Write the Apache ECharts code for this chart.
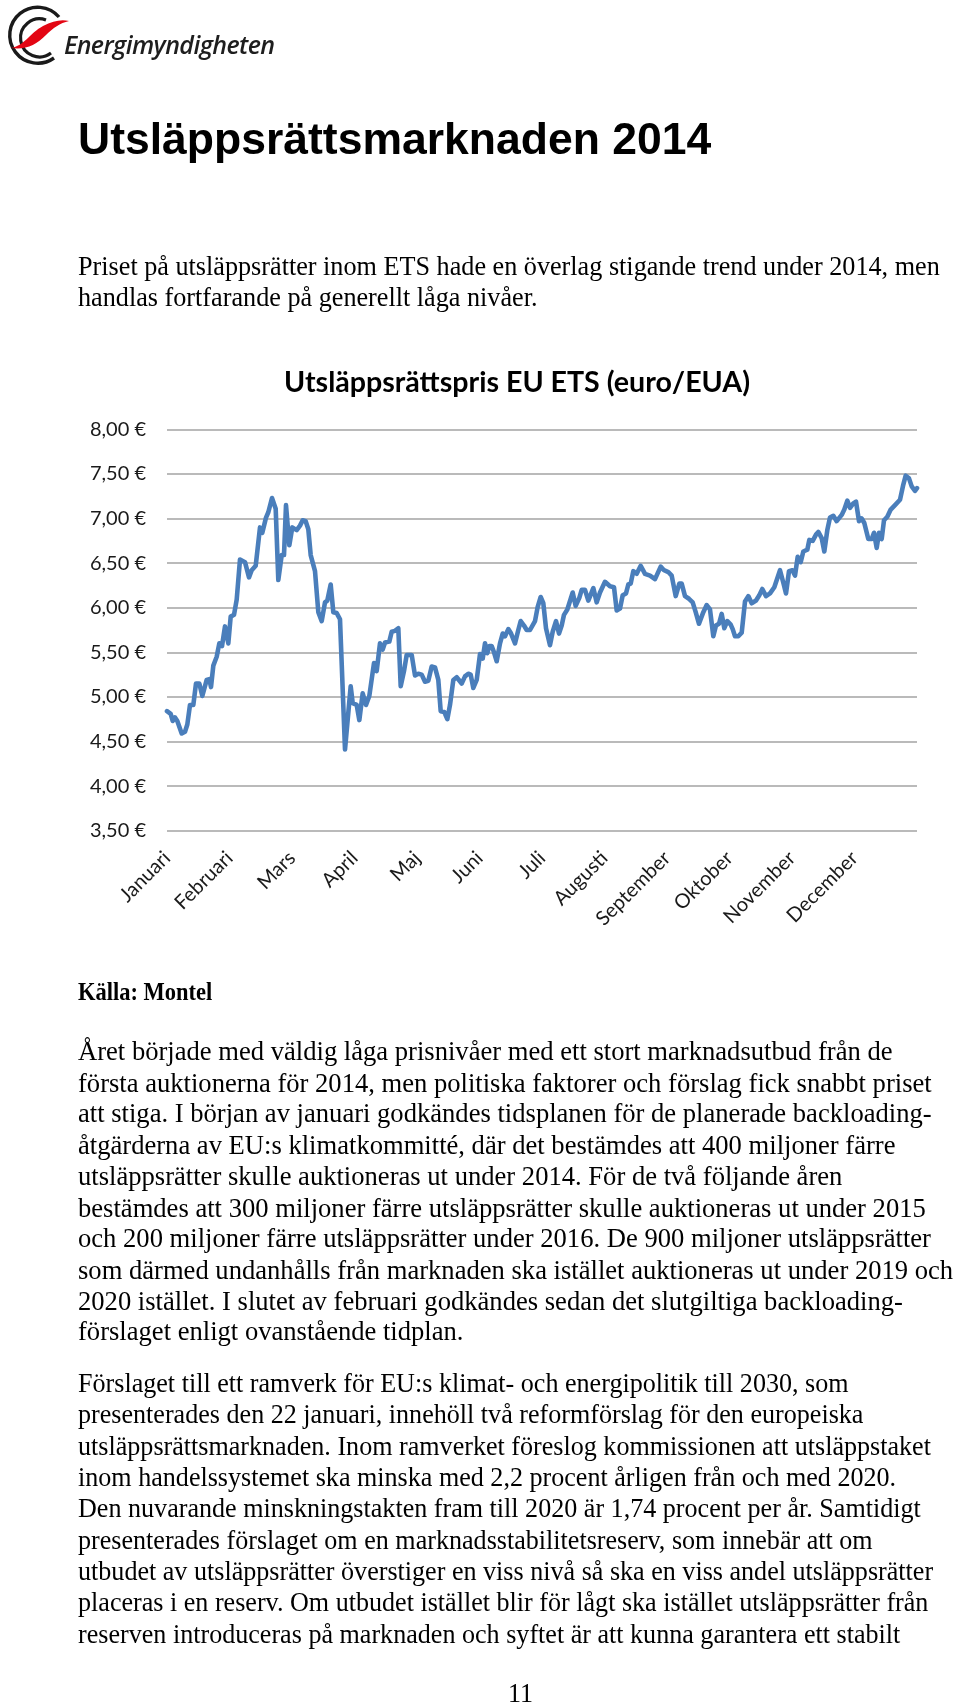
<!DOCTYPE html>
<html>
<head>
<meta charset="utf-8">
<script src="https://cdn.jsdelivr.net/npm/echarts@6/dist/echarts.min.js"></script>
<style>
html,body{margin:0;padding:0;background:#fff;}
#page{position:relative;width:960px;height:1705px;overflow:hidden;background:#fff;}
#chart{position:absolute;left:0;top:0;width:960px;height:1705px;z-index:1;}
.t{position:absolute;white-space:nowrap;color:#000;z-index:2;transform-origin:0 0;}
.serif{font-family:"Liberation Serif","Times New Roman",serif;}
#logo{position:absolute;left:0;top:0;z-index:2;}
#logotext{position:absolute;left:64px;top:29px;font-family:"Open Sans",sans-serif;font-style:italic;font-weight:600;font-size:25px;line-height:30px;color:#1e1e1e;letter-spacing:-0.6px;z-index:2;}
#title{left:78px;top:113.6px;font-family:"Liberation Sans",Arial,sans-serif;font-weight:bold;font-size:44.5px;line-height:50px;}
.p{font-size:26px;transform:scaleY(1.07);}
#p1{left:78px;top:250px;line-height:29.44px;font-size:26.2px;}
#src{left:78px;top:979px;font-weight:bold;font-size:22.5px;line-height:24.9px;transform:scaleY(1.1);}
#p2{left:78px;top:1036px;line-height:29.71px;font-size:26.6px;transform:scaleY(1.05);}
#p3{left:78px;top:1367px;line-height:29.35px;font-size:26.1px;}
#pg{left:508px;top:1677px;line-height:29.35px;}
</style>
</head>
<body>
<div id="page">
  <div id="chart"></div>
  <svg id="logo" width="80" height="70" viewBox="0 0 80 70">
    <path d="M59,17 A28,28 0 1 0 54,58" fill="none" stroke="#1a1a1a" stroke-width="3.4"/>
    <path d="M46,20 A19,19 0 1 0 51,53" fill="none" stroke="#1a1a1a" stroke-width="3.2"/>
    <path d="M11,48 C24,46 30,33 43,26 C53,21 61,19 69,21 C60,23 53,28 46,35 C36,45 26,50 11,48 Z" fill="#e30613"/>
  </svg>
  <div id="logotext">Energimyndigheten</div>

  <div id="title" class="t">Utsläppsrättsmarknaden 2014</div>

  <div id="p1" class="t serif p">Priset på utsläppsrätter inom ETS hade en överlag stigande trend under 2014, men<br>handlas fortfarande på generellt låga nivåer.</div>

  <div id="src" class="t serif">Källa: Montel</div>

  <div id="p2" class="t serif">Året började med väldig låga prisnivåer med ett stort marknadsutbud från de<br>första auktionerna för 2014, men politiska faktorer och förslag fick snabbt priset<br>att stiga. I början av januari godkändes tidsplanen för de planerade backloading-<br>åtgärderna av EU:s klimatkommitté, där det bestämdes att 400 miljoner färre<br>utsläppsrätter skulle auktioneras ut under 2014. För de två följande åren<br>bestämdes att 300 miljoner färre utsläppsrätter skulle auktioneras ut under 2015<br>och 200 miljoner färre utsläppsrätter under 2016. De 900 miljoner utsläppsrätter<br>som därmed undanhålls från marknaden ska istället auktioneras ut under 2019 och<br>2020 istället. I slutet av februari godkändes sedan det slutgiltiga backloading-<br>förslaget enligt ovanstående tidplan.</div>

  <div id="p3" class="t serif p">Förslaget till ett ramverk för EU:s klimat- och energipolitik till 2030, som<br>presenterades den 22 januari, innehöll två reformförslag för den europeiska<br>utsläppsrättsmarknaden. Inom ramverket föreslog kommissionen att utsläppstaket<br>inom handelssystemet ska minska med 2,2 procent årligen från och med 2020.<br>Den nuvarande minskningstakten fram till 2020 är 1,74 procent per år. Samtidigt<br>presenterades förslaget om en marknadsstabilitetsreserv, som innebär att om<br>utbudet av utsläppsrätter överstiger en viss nivå så ska en viss andel utsläppsrätter<br>placeras i en reserv. Om utbudet istället blir för lågt ska istället utsläppsrätter från<br>reserven introduceras på marknaden och syftet är att kunna garantera ett stabilt</div>

  <div id="pg" class="t serif p">11</div>
</div>

<script>
// ---- Data ----
const chartTitle = 'Utsläppsrättspris EU ETS (euro/EUA)';
const monthNames = ['Januari','Februari','Mars','April','Maj','Juni','Juli','Augusti','September','Oktober','November','December'];
// position along the year, in months from 1 January (0 = start of Januari, 12 = end of December)
const monthPos = [
  0.000,0.059,0.091,0.128,0.165,0.235,0.288,0.325,0.368,0.421,0.464,0.517,0.565,0.635,0.677,0.704,0.741,0.795,0.837,0.880,
  0.928,0.981,1.019,1.072,1.115,1.168,1.248,1.312,1.355,1.419,1.488,1.525,1.584,1.621,1.680,1.739,1.781,1.835,1.872,1.904,
  1.957,2.005,2.075,2.128,2.171,2.219,2.261,2.299,2.368,2.421,2.475,2.528,2.565,2.619,2.661,2.715,2.768,2.848,2.939,
  2.971,3.035,3.077,3.131,3.184,3.237,3.312,3.355,3.408,3.451,3.488,3.557,3.595,3.648,3.701,3.739,3.792,3.835,3.915,3.968,
  4.021,4.075,4.128,4.181,4.235,4.288,4.341,4.379,4.437,4.485,4.528,4.581,4.635,4.715,4.768,4.821,4.859,4.901,4.955,5.008,
  5.051,5.088,5.125,5.157,5.195,5.232,5.275,5.328,5.371,5.408,5.461,5.499,5.568,5.621,5.659,5.712,5.755,5.808,5.888,5.931,5.979,
  6.021,6.064,6.128,6.171,6.224,6.272,6.315,6.352,6.405,6.491,6.539,6.597,6.635,6.688,6.741,6.821,6.875,6.928,7.008,7.088,
  7.152,7.195,7.248,7.291,7.344,7.381,7.419,7.461,7.515,7.579,7.648,7.728,7.808,7.899,7.952,8.021,8.075,8.139,8.197,8.235,
  8.288,8.352,8.411,8.459,8.512,8.581,8.635,8.688,8.741,8.784,8.832,8.875,8.917,8.965,9.019,
  9.051,9.088,9.141,9.195,9.248,9.301,9.355,9.424,9.477,9.525,9.584,9.648,9.717,9.808,9.861,9.904,9.952,10.005,10.048,10.091,
  10.139,10.181,10.245,10.277,10.331,10.384,10.421,10.475,10.517,10.565,10.608,10.661,10.715,10.795,10.837,10.885,10.928,10.981,11.024,11.072,
  11.115,11.157,11.221,11.275,11.312,11.355,11.392,11.435,11.472,11.525,11.579,11.648,11.728,11.781,11.819,11.872,11.915,11.968,12.000
];
// price, euro per EUA
const price = [
  4.84,4.81,4.73,4.77,4.73,4.59,4.61,4.69,4.91,4.91,5.15,5.15,5.01,5.19,5.20,5.11,5.35,5.45,5.60,5.57,
  5.79,5.60,5.90,5.92,6.09,6.54,6.51,6.34,6.42,6.47,6.90,6.84,7.01,7.07,7.23,7.11,6.31,6.59,6.59,7.15,
  6.70,6.90,6.87,6.92,6.98,6.97,6.88,6.59,6.41,5.95,5.85,6.06,6.08,6.26,5.95,5.94,5.87,4.41,5.12,
  4.93,4.91,4.74,5.04,4.91,5.01,5.38,5.29,5.60,5.53,5.61,5.62,5.73,5.74,5.77,5.12,5.29,5.47,5.47,5.24,
  5.26,5.25,5.17,5.18,5.34,5.33,5.19,4.84,4.83,4.75,4.91,5.19,5.22,5.15,5.23,5.26,5.25,5.10,5.19,5.48,
  5.43,5.60,5.49,5.57,5.57,5.50,5.40,5.60,5.71,5.68,5.76,5.72,5.60,5.75,5.85,5.80,5.75,5.75,5.85,6.01,6.12,
  6.05,5.77,5.58,5.73,5.85,5.71,5.80,5.92,5.98,6.17,6.02,6.11,6.20,6.20,6.08,6.22,6.06,6.17,6.29,6.24,
  6.23,5.97,5.99,6.14,6.16,6.26,6.27,6.41,6.38,6.47,6.38,6.36,6.32,6.46,6.42,6.40,6.36,6.13,6.27,6.27,
  6.13,6.10,6.06,5.95,5.82,5.95,6.03,5.98,5.68,5.80,5.82,5.93,5.77,5.85,5.81,
  5.76,5.68,5.68,5.72,6.07,6.13,6.05,6.08,6.14,6.21,6.13,6.16,6.23,6.42,6.28,6.16,6.41,6.42,6.36,6.57,
  6.51,6.63,6.65,6.76,6.75,6.82,6.85,6.78,6.63,6.87,7.01,7.03,6.97,7.04,7.10,7.20,7.12,7.17,7.19,6.97,
  7.00,6.95,6.77,6.77,6.84,6.67,6.84,6.77,6.98,7.02,7.10,7.15,7.21,7.38,7.48,7.45,7.36,7.31,7.34
];
const yMin = 3.5, yMax = 8, yStep = 0.5;

// ---- Chart ----
const seriesData = monthPos.map((m, i) => [m, price[i]]);
const chart = echarts.init(document.getElementById('chart'), null, {renderer: 'canvas'});
const axisFont = 'Lato';
chart.setOption({
  animation: false,
  backgroundColor: '#ffffff',
  title: {
    text: chartTitle,
    left: 284,
    top: 368,
    padding: 0,
    textStyle: {fontFamily: 'Lato', fontWeight: 'bold', fontSize: 28.6, lineHeight: 29, color: '#000'}
  },
  grid: {left: 167, top: 429.3, width: 750, height: 401.4, containLabel: false},
  xAxis: {
    type: 'value',
    min: 0, max: 12, interval: 1,
    axisLine: {show: false},
    axisTick: {show: false},
    splitLine: {show: false},
    axisLabel: {
      rotate: 45,
      margin: 24,
      fontFamily: axisFont,
      fontSize: 20,
      color: '#1a1a1a',
      showMaxLabel: false,
      formatter: v => monthNames[Math.round(v)] || ''
    }
  },
  yAxis: {
    type: 'value',
    min: yMin, max: yMax, interval: yStep,
    axisLine: {show: false},
    axisTick: {show: false},
    splitLine: {show: true, lineStyle: {color: '#a3a3a3', width: 1.5}},
    axisLabel: {
      margin: 21,
      fontFamily: axisFont,
      fontSize: 20,
      color: '#1a1a1a',
      formatter: v => v.toFixed(2).replace('.', ',') + ' €'
    }
  },
  series: [{
    type: 'line',
    data: seriesData,
    showSymbol: false,
    smooth: false,
    lineStyle: {color: '#4A7EBB', width: 4.6, join: 'round', cap: 'round'},
    itemStyle: {color: '#4A7EBB'}
  }]
});
</script>
</body>
</html>
